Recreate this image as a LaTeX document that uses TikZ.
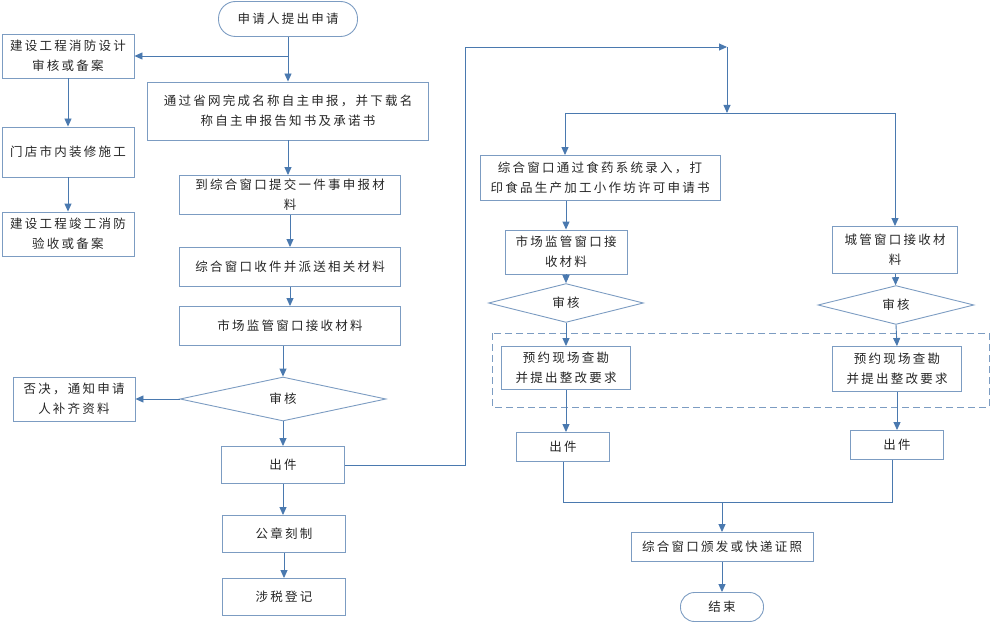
\documentclass[tikz,border=0pt]{standalone}
\usepackage{fontspec}
\setmainfont{Noto Sans CJK SC}[LetterSpace=18]
\usepackage{tikz}
\usetikzlibrary{shapes,arrows.meta}
\usepackage{xcolor}
\definecolor{flowline}{HTML}{4A79AF}
\definecolor{flowedge}{HTML}{7C9CC2}

\begin{document}
\begin{tikzpicture}[x=1pt,y=-1pt,>={Triangle[length=8pt,width=7pt]}]
    \tikzstyle{every node}=[font=\fontsize{12.5}{20}\selectfont,text=black!85,align=center,inner sep=0pt]
    \tikzstyle{box}=[rectangle,draw=flowedge,line width=0.9pt]
    \tikzstyle{term}=[rectangle,rounded corners=14pt,draw=flowedge,line width=0.9pt]
    \tikzstyle{check}=[diamond,draw=flowedge,line width=0.9pt]
    \tikzstyle{link}=[draw=flowline,line width=0.9pt]
    \useasboundingbox (0,0) rectangle (990,623);
    % left column
    \node[term,minimum width=139pt,minimum height=35pt,rounded corners=17pt] (start) at (288,19) {申请人提出申请};
    \node[box,minimum width=132pt,minimum height=44pt] (fireDesign) at (68,56) {建设工程消防设计\\审核或备案};
    \node[box,minimum width=132pt,minimum height=50pt] (decorate) at (68,152) {门店市内装修施工};
    \node[box,minimum width=132pt,minimum height=44pt] (fireAccept) at (68,234) {建设工程竣工消防\\验收或备案};
    \node[box,minimum width=281pt,minimum height=58pt] (nameReport) at (288,111) {通过省网完成名称自主申报，并下载名\\称自主申报告知书及承诺书};
    \node[box,minimum width=221pt,minimum height=39pt] (submit) at (290,195) {到综合窗口提交一件事申报材\\料};
    \node[box,minimum width=221pt,minimum height=39pt] (dispatch) at (290,267) {综合窗口收件并派送相关材料};
    \node[box,minimum width=221pt,minimum height=39pt] (marketRecv) at (290,326) {市场监管窗口接收材料};
    \node[check,minimum width=206pt,minimum height=44pt] (audit) at (283,399) {审核};
    \node[box,minimum width=122pt,minimum height=44pt] (reject) at (74,399) {否决，通知申请\\人补齐资料};
    \node[box,minimum width=123pt,minimum height=37pt] (issue) at (283,465) {出件};
    \node[box,minimum width=123pt,minimum height=37pt] (seal) at (284,534) {公章刻制};
    \node[box,minimum width=123pt,minimum height=37pt] (tax) at (284,597) {涉税登记};
    % right column
    \node[box,minimum width=240pt,minimum height=45pt] (foodEntry) at (600,178) {综合窗口通过食药系统录入，打\\印食品生产加工小作坊许可申请书};
    \node[box,minimum width=122pt,minimum height=44pt] (marketRecvB) at (566,252) {市场监管窗口接\\收材料};
    \node[box,minimum width=125pt,minimum height=47pt] (cityRecv) at (895,250) {城管窗口接收材\\料};
    \node[check,minimum width=155pt,minimum height=31pt] (auditB) at (566,303) {审核};
    \node[check,minimum width=156pt,minimum height=28pt] (auditC) at (896,305) {审核};
    \node[box,minimum width=129pt,minimum height=43pt] (surveyB) at (566,368) {预约现场查勘\\并提出整改要求};
    \node[box,minimum width=129pt,minimum height=45pt] (surveyC) at (897,369) {预约现场查勘\\并提出整改要求};
    \node[box,minimum width=93pt,minimum height=29pt] (issueB) at (563,447) {出件};
    \node[box,minimum width=93pt,minimum height=29pt] (issueC) at (897,445) {出件};
    \node[box,minimum width=182pt,minimum height=29pt] (license) at (722,547) {综合窗口颁发或快递证照};
    \node[term,minimum width=83pt,minimum height=29pt] (finish) at (722,607) {结束};
    \draw[draw=flowedge,line width=0.9pt,dash pattern=on 7pt off 4pt] (492,333) rectangle (989,407);
    \coordinate (rise) at (465,47);
    \coordinate (turn) at (727,47);
    \coordinate (fork) at (727,113);
    \coordinate (forkL) at (565,113);
    \coordinate (merge) at (722,502);
    % connectors
    \draw[link,->] (start.south) -- (nameReport.north);
    \draw[link,->] (fireDesign.east -| start.south) -- (fireDesign.east);
    \draw[link,->] (fireDesign) -- (decorate);
    \draw[link,->] (decorate) -- (fireAccept);
    \draw[link,->] (nameReport.south) -- (nameReport.south |- submit.north);
    \draw[link,->] (submit) -- (dispatch);
    \draw[link,->] (dispatch) -- (marketRecv);
    \draw[link,->] (audit.north |- marketRecv.south) -- (audit.north);
    \draw[link,->] (audit.west) -- (reject.east);
    \draw[link,->] (audit.south) -- (issue.north);
    \draw[link,->] (issue.south) -- (issue.south |- seal.north);
    \draw[link,->] (seal) -- (tax);
    \draw[link,->] (issue.east) -| (rise) -- (turn);
    \draw[link,->] (turn) -- (fork);
    \draw[link] (fork) -- (forkL);
    \draw[link,->] (forkL) -- (forkL |- foodEntry.north);
    \draw[link,->] (fork) -| (cityRecv.north);
    \draw[link,->] (marketRecvB.north |- foodEntry.south) -- (marketRecvB.north);
    \draw[link,->] (marketRecvB) -- (auditB);
    \draw[link,->] (cityRecv) -- (auditC);
    \draw[link,->] (auditB.south) -- (surveyB.north);
    \draw[link,->] (auditC.south) -- (surveyC.north);
    \draw[link,->] (surveyB.south) -- (surveyB.south |- issueB.north);
    \draw[link,->] (surveyC) -- (issueC);
    \draw[link] (issueB.south) |- (merge);
    \draw[link] ([xshift=-5pt]issueC.south) |- (merge);
    \draw[link,->] (merge) -- (license.north);
    \draw[link,->] (license) -- (finish);
\end{tikzpicture}
\end{document}
